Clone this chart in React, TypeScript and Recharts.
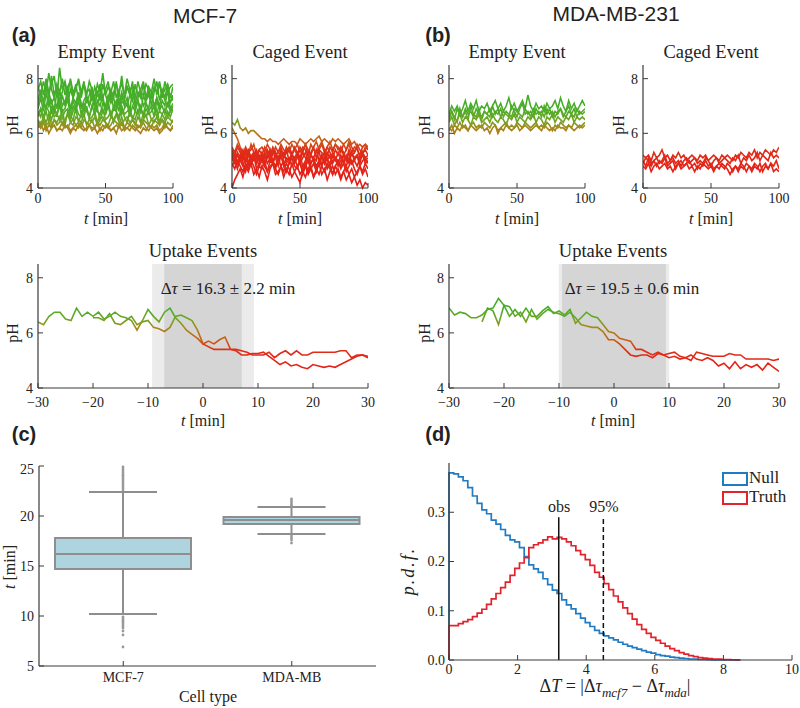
import {
  Bar,
  ComposedChart,
  Line,
  LineChart,
  ReferenceArea,
  ReferenceLine,
  XAxis,
  YAxis,
} from 'recharts';

const SERIF = '"Liberation Serif", "DejaVu Serif", serif';
const SANS = '"Liberation Sans", Arial, sans-serif';
const AXIS = '#3a3a3a';
const INK = '#222';

// pH traces: 100 min events sampled every 2 min
const EVENT_STEP = 2;
const PH_MIN = 4;
const PH_MAX = 8.5;
const PH_TICKS = [4, 6, 8];
const EVENT_TICKS = [0, 50, 100];
const UPTAKE_TICKS = [-30, -20, -10, 0, 10, 20, 30];

const MCF_EMPTY = [
  [7.6, 7.9, 7.4, 8.0, 7.5, 7.8, 8.1, 7.3, 8.4, 7.6, 7.9, 7.4, 8.0, 7.5, 7.7, 7.9, 7.3, 7.8, 7.5, 7.6, 7.2, 7.7, 7.4, 7.8, 7.3, 7.6, 7.9, 7.2, 7.5, 7.8, 7.4, 8.1, 7.3, 7.7, 7.5, 7.2, 7.8, 7.4, 7.6, 7.9, 7.3, 7.7, 7.5, 8.0, 7.4, 7.8, 7.3, 7.9, 7.5, 7.7, 7.8],
  [7.7, 7.4, 7.9, 7.5, 8.2, 7.6, 7.3, 7.8, 7.5, 8.0, 7.4, 7.7, 7.9, 7.3, 7.6, 8.0, 7.5, 7.8, 7.4, 7.9, 7.6, 7.3, 7.8, 7.5, 8.2, 7.4, 7.7, 7.5, 7.9, 7.3, 7.6, 7.8, 7.4, 8.0, 7.6, 7.7, 7.3, 7.9, 7.5, 7.4, 7.8, 7.6, 7.3, 7.7, 7.5, 7.9, 7.4, 7.6, 7.8, 7.3, 7.7],
  [7.2, 7.6, 7.1, 7.8, 7.3, 8.1, 7.4, 7.7, 7.2, 7.5, 7.9, 7.1, 7.6, 7.3, 7.8, 7.2, 7.5, 7.9, 7.1, 7.4, 7.7, 7.0, 7.5, 7.2, 7.8, 7.4, 7.1, 7.6, 7.3, 7.9, 7.0, 7.5, 7.2, 7.7, 7.4, 7.9, 7.1, 7.5, 7.3, 7.8, 7.2, 7.6, 7.0, 7.5, 7.9, 7.2, 7.6, 7.3, 7.8, 7.1, 7.4],
  [7.0, 7.4, 7.2, 6.9, 7.5, 7.1, 7.3, 6.9, 7.6, 7.0, 7.2, 7.4, 6.9, 7.3, 7.1, 7.5, 6.9, 7.2, 7.4, 7.0, 7.3, 7.1, 6.9, 7.5, 7.2, 7.0, 7.4, 7.1, 7.3, 6.9, 7.5, 7.1, 7.2, 7.0, 7.4, 7.2, 6.9, 7.3, 7.5, 7.0, 7.2, 7.4, 7.1, 6.9, 7.3, 7.0, 7.5, 7.2, 7.0, 7.4, 7.2],
  [6.9, 7.3, 6.8, 7.5, 7.0, 7.2, 6.7, 7.6, 6.9, 7.4, 7.0, 7.7, 6.8, 7.2, 6.9, 7.5, 7.1, 6.8, 7.3, 7.0, 7.6, 6.8, 7.2, 7.0, 7.4, 6.7, 7.1, 7.5, 6.9, 7.2, 6.8, 7.4, 7.0, 7.3, 6.8, 7.6, 7.0, 7.2, 6.7, 7.4, 7.1, 6.9, 7.5, 7.0, 7.3, 6.8, 7.2, 7.0, 7.6, 6.9, 7.1],
  [6.8, 6.6, 7.1, 6.9, 7.3, 6.7, 7.0, 6.6, 7.2, 6.8, 6.9, 7.3, 6.6, 7.0, 6.8, 7.2, 6.7, 7.1, 6.9, 6.6, 7.0, 7.3, 6.8, 6.7, 7.1, 6.9, 7.2, 6.6, 7.0, 6.8, 7.3, 6.7, 6.9, 7.1, 6.6, 7.0, 6.8, 7.2, 6.9, 6.7, 7.1, 6.8, 7.0, 6.6, 7.2, 6.9, 7.0, 6.7, 7.1, 6.8, 7.0],
  [6.7, 6.9, 6.6, 7.0, 6.8, 6.5, 6.9, 6.7, 7.0, 6.6, 6.8, 6.9, 6.5, 6.8, 7.0, 6.7, 6.6, 6.9, 6.8, 6.6, 7.0, 6.7, 6.9, 6.5, 6.8, 6.7, 7.0, 6.6, 6.9, 6.8, 6.6, 7.0, 6.7, 6.8, 6.9, 6.5, 6.8, 6.7, 7.0, 6.6, 6.9, 6.7, 6.8, 7.0, 6.6, 6.8, 6.7, 6.9, 6.6, 6.8, 6.9],
  [6.6, 6.9, 6.5, 6.8, 6.4, 7.0, 6.6, 6.7, 6.5, 6.9, 6.3, 6.8, 6.6, 6.5, 6.9, 6.4, 6.7, 6.6, 7.0, 6.5, 6.6, 6.8, 6.4, 6.7, 6.9, 6.5, 6.6, 6.8, 6.4, 6.7, 6.5, 6.9, 6.6, 6.4, 6.8, 6.6, 6.5, 6.9, 6.4, 6.7, 6.6, 6.8, 6.5, 6.6, 6.9, 6.4, 6.7, 6.5, 6.8, 6.6, 6.9],
  [6.5, 6.3, 6.6, 6.4, 6.7, 6.3, 6.5, 6.4, 6.6, 6.3, 6.5, 6.7, 6.4, 6.3, 6.6, 6.5, 6.4, 6.7, 6.3, 6.5, 6.4, 6.6, 6.3, 6.5, 6.6, 6.4, 6.3, 6.6, 6.5, 6.7, 6.4, 6.3, 6.5, 6.6, 6.4, 6.5, 6.3, 6.6, 6.4, 6.5, 6.7, 6.3, 6.5, 6.4, 6.6, 6.3, 6.5, 6.4, 6.6, 6.5, 6.4],
  [6.4, 6.2, 6.5, 6.3, 6.4, 6.2, 6.5, 6.3, 6.4, 6.6, 6.3, 6.2, 6.4, 6.5, 6.3, 6.4, 6.2, 6.5, 6.4, 6.3, 6.5, 6.2, 6.4, 6.3, 6.5, 6.4, 6.2, 6.3, 6.5, 6.4, 6.3, 6.6, 6.2, 6.4, 6.3, 6.5, 6.4, 6.2, 6.3, 6.5, 6.4, 6.3, 6.2, 6.5, 6.4, 6.3, 6.5, 6.2, 6.4, 6.3, 6.5],
  [6.3, 6.2, 6.4, 6.1, 6.3, 6.2, 6.3, 6.1, 6.2, 6.4, 6.2, 6.3, 6.1, 6.2, 6.3, 6.2, 6.4, 6.2, 6.1, 6.3, 6.2, 6.2, 6.4, 6.1, 6.3, 6.2, 6.3, 6.1, 6.2, 6.3, 6.2, 6.4, 6.1, 6.2, 6.3, 6.2, 6.1, 6.3, 6.2, 6.4, 6.2, 6.1, 6.3, 6.2, 6.3, 6.1, 6.2, 6.4, 6.2, 6.1, 6.3],
  [6.2, 6.4, 6.1, 6.3, 6.0, 6.2, 6.3, 6.1, 6.2, 6.1, 6.3, 6.2, 6.0, 6.2, 6.1, 6.3, 6.2, 6.1, 6.2, 6.3, 6.1, 6.2, 6.0, 6.2, 6.1, 6.3, 6.2, 6.1, 6.2, 6.0, 6.3, 6.1, 6.2, 6.2, 6.1, 6.3, 6.2, 6.1, 6.0, 6.2, 6.1, 6.3, 6.2, 6.1, 6.2, 6.0, 6.1, 6.3, 6.2, 6.1, 6.2],
];

const MCF_CAGED = [
  [6.4, 6.3, 6.5, 6.2, 6.1, 6.2, 6.0, 6.1, 6.1, 6.0, 5.9, 5.8, 5.8, 5.7, 5.8, 5.7, 5.7, 5.6, 5.7, 5.8, 5.7, 5.6, 5.7, 5.7, 5.6, 5.8, 5.7, 5.6, 5.7, 5.8, 5.7, 5.8, 5.9, 5.7, 5.8, 5.7, 5.6, 5.8, 5.7, 5.8, 5.7, 5.6, 5.7, 5.8, 5.6, 5.7, 5.5, 5.6, 5.5, 5.6, 5.5],
  [6.2, 6.0, 5.8, 5.5, 5.3, 5.2, 5.4, 5.1, 5.3, 5.2, 5.0, 5.3, 5.1, 5.4, 5.2, 5.5, 5.3, 5.1, 5.4, 5.2, 5.5, 5.3, 5.6, 5.4, 5.2, 5.5, 5.3, 5.6, 5.4, 5.2, 5.5, 5.7, 5.4, 5.6, 5.3, 5.5, 5.7, 5.4, 5.6, 5.5, 5.3, 5.6, 5.4, 5.7, 5.5, 5.3, 5.6, 5.4, 5.2, 5.5, 5.4],
  [5.5, 5.3, 5.6, 5.4, 5.2, 5.5, 5.3, 5.4, 5.6, 5.2, 5.4, 5.5, 5.3, 5.6, 5.4, 5.2, 5.5, 5.3, 5.6, 5.4, 5.3, 5.5, 5.2, 5.4, 5.6, 5.3, 5.5, 5.4, 5.2, 5.6, 5.4, 5.3, 5.5, 5.7, 5.4, 5.2, 5.5, 5.3, 5.6, 5.4, 5.5, 5.2, 5.4, 5.6, 5.3, 5.5, 5.4, 5.2, 5.5, 5.6, 5.4],
  [5.0, 5.3, 4.9, 5.2, 5.0, 5.4, 4.8, 5.1, 5.3, 4.9, 5.2, 5.0, 4.8, 5.2, 5.1, 4.9, 5.3, 5.0, 5.2, 4.8, 5.1, 5.0, 5.3, 4.9, 5.1, 5.2, 4.8, 5.0, 5.3, 4.9, 5.1, 5.0, 5.4, 4.8, 5.2, 5.0, 4.9, 5.3, 5.1, 5.0, 4.8, 5.2, 5.0, 5.3, 4.9, 5.1, 5.2, 4.9, 5.3, 5.0, 5.1],
  [5.3, 5.1, 4.9, 5.2, 5.4, 5.0, 5.2, 4.9, 5.1, 5.3, 5.0, 5.2, 4.9, 5.1, 5.4, 5.0, 5.1, 4.8, 5.2, 5.3, 5.0, 4.9, 5.2, 5.1, 4.8, 5.0, 5.3, 5.1, 4.9, 5.2, 5.0, 4.7, 4.9, 5.1, 5.3, 5.0, 5.2, 4.9, 5.1, 4.8, 5.0, 5.2, 5.1, 4.9, 5.3, 5.0, 4.8, 5.1, 5.2, 4.9, 5.0],
  [4.8, 5.0, 4.7, 5.1, 4.9, 4.6, 5.0, 4.8, 5.2, 4.7, 4.9, 5.1, 4.8, 4.6, 5.0, 4.9, 4.7, 5.1, 4.8, 5.0, 4.6, 4.9, 5.1, 4.8, 4.7, 5.0, 4.5, 4.8, 5.1, 4.7, 4.9, 4.6, 5.0, 4.8, 5.1, 4.7, 4.9, 4.5, 4.8, 5.0, 4.7, 4.9, 4.6, 4.8, 5.0, 4.7, 4.5, 4.8, 4.6, 4.9, 4.7],
  [4.9, 4.7, 5.0, 4.8, 4.6, 4.9, 4.7, 5.0, 4.8, 4.5, 4.8, 4.7, 5.0, 4.6, 4.8, 4.9, 4.7, 4.5, 4.8, 4.6, 4.9, 4.7, 4.4, 4.6, 4.8, 4.5, 4.7, 4.9, 4.6, 4.8, 4.4, 4.7, 4.5, 4.8, 4.6, 4.9, 4.7, 4.5, 4.8, 4.6, 4.3, 4.6, 4.8, 4.5, 4.7, 4.4, 4.6, 4.8, 4.5, 4.7, 4.4],
  [5.4, 5.2, 5.5, 5.3, 5.1, 5.4, 5.2, 5.6, 5.3, 5.1, 5.4, 5.2, 5.5, 5.3, 5.0, 5.4, 5.2, 5.3, 5.5, 5.1, 5.3, 5.4, 5.2, 5.5, 5.3, 5.1, 5.4, 5.6, 5.2, 5.3, 5.5, 5.1, 5.4, 5.3, 5.2, 5.5, 5.3, 5.1, 5.4, 5.2, 5.5, 5.3, 5.0, 5.4, 5.2, 5.3, 5.5, 5.1, 5.3, 5.4, 5.2],
  [4.0, 4.3, 4.5, 4.7, 4.4, 4.8, 4.6, 4.9, 4.5, 4.7, 4.4, 4.8, 4.6, 4.3, 4.7, 4.9, 4.5, 4.6, 4.8, 4.4, 4.7, 4.5, 4.9, 4.6, 4.4, 4.2, 4.6, 4.8, 4.5, 4.7, 4.4, 4.6, 4.9, 4.5, 4.7, 4.3, 4.6, 4.8, 4.5, 4.7, 4.4, 4.6, 4.3, 4.5, 4.2, 4.4, 4.1, 4.3, 4.0, 4.2, 4.1],
  [5.1, 4.9, 5.2, 5.0, 4.8, 5.1, 4.9, 5.2, 5.0, 5.1, 4.8, 5.0, 5.2, 4.9, 5.1, 5.0, 4.8, 5.1, 5.2, 4.9, 5.0, 5.1, 4.8, 5.0, 5.2, 4.9, 4.6, 4.4, 4.7, 4.9, 5.1, 4.8, 5.0, 5.2, 4.9, 5.1, 4.8, 5.0, 5.1, 4.9, 5.2, 5.0, 4.8, 5.1, 4.9, 5.0, 5.2, 4.8, 5.0, 5.1, 4.9],
  [5.2, 5.0, 5.3, 5.1, 5.2, 4.9, 5.3, 5.0, 5.2, 5.4, 5.1, 5.0, 5.3, 5.1, 5.2, 4.9, 5.2, 5.0, 5.3, 5.1, 5.4, 5.0, 5.2, 5.1, 5.3, 4.9, 5.1, 5.3, 5.0, 5.2, 5.1, 5.4, 5.0, 5.2, 4.9, 5.3, 5.1, 5.2, 5.0, 5.3, 5.1, 4.9, 5.2, 5.0, 5.3, 5.1, 5.2, 5.0, 5.3, 5.1, 5.2],
];

const MDA_EMPTY = [
  [6.7, 7.0, 6.8, 7.0, 6.7, 6.9, 7.2, 6.8, 7.1, 6.9, 7.2, 6.8, 7.0, 6.9, 7.1, 6.8, 7.0, 7.2, 6.9, 7.1, 6.8, 7.0, 7.3, 6.9, 7.1, 6.8, 7.0, 7.2, 6.9, 7.4, 7.0, 6.8, 7.1, 6.9, 7.0, 6.8, 7.1, 6.9, 7.0, 7.2, 6.9, 7.3, 7.0, 6.8, 7.2, 6.9, 7.1, 6.8, 7.0, 7.2, 7.0],
  [6.6, 6.8, 6.5, 6.9, 6.7, 6.6, 6.9, 6.7, 6.8, 6.6, 6.9, 6.7, 6.6, 6.8, 6.7, 6.9, 6.6, 6.8, 6.7, 6.9, 6.6, 6.8, 6.7, 6.6, 6.9, 6.8, 6.7, 6.6, 6.9, 6.7, 6.8, 6.6, 6.9, 6.7, 6.8, 6.6, 6.9, 6.7, 6.8, 6.6, 6.8, 6.9, 6.7, 6.6, 6.8, 6.7, 6.9, 6.6, 6.8, 6.7, 6.8],
  [6.4, 6.6, 6.3, 6.5, 6.7, 6.4, 6.6, 6.5, 6.3, 6.6, 6.5, 6.7, 6.4, 6.5, 6.6, 6.4, 6.7, 6.5, 6.4, 6.6, 6.5, 6.3, 6.6, 6.5, 6.7, 6.4, 6.6, 6.5, 6.4, 6.6, 6.5, 6.7, 6.4, 6.6, 6.5, 6.3, 6.6, 6.5, 6.7, 6.4, 6.6, 6.5, 6.4, 6.6, 6.5, 6.7, 6.4, 6.6, 6.5, 6.6, 6.5],
  [6.2, 6.1, 6.3, 6.2, 6.4, 6.2, 6.3, 6.1, 6.3, 6.4, 6.2, 6.3, 6.2, 6.4, 6.3, 6.2, 6.4, 6.3, 6.0, 6.2, 6.3, 6.4, 6.2, 6.3, 6.2, 6.4, 6.3, 6.2, 6.4, 6.3, 6.2, 6.3, 6.4, 6.2, 6.3, 6.2, 6.4, 6.3, 6.1, 6.3, 6.2, 6.4, 6.3, 6.2, 6.3, 6.2, 6.4, 6.3, 6.2, 6.3, 6.4],
  [6.5, 6.8, 6.6, 6.4, 6.9, 6.6, 6.8, 6.5, 7.0, 6.7, 6.6, 6.9, 6.5, 6.8, 6.7, 6.6, 7.0, 6.7, 6.9, 6.6, 6.8, 6.7, 6.6, 7.0, 6.8, 6.6, 6.9, 7.1, 6.7, 6.8, 6.6, 6.9, 6.7, 6.8, 6.6, 7.0, 6.7, 6.9, 6.6, 6.8, 6.7, 6.9, 6.6, 6.8, 7.0, 6.7, 6.6, 6.9, 6.7, 6.8, 6.9],
  [6.1, 6.3, 6.0, 6.2, 6.1, 6.3, 6.2, 6.1, 6.3, 6.2, 6.1, 6.2, 6.3, 6.1, 6.2, 6.0, 6.2, 6.3, 6.1, 6.2, 6.1, 6.3, 6.2, 6.1, 6.2, 6.3, 6.1, 6.2, 6.3, 6.2, 6.1, 6.2, 6.3, 6.2, 6.1, 6.3, 6.2, 6.1, 6.2, 6.1, 6.3, 6.2, 6.2, 6.1, 6.3, 6.2, 6.1, 6.2, 6.3, 6.2, 6.3],
];

const MDA_CAGED = [
  [5.2, 5.1, 5.2, 5.0, 5.3, 5.1, 5.2, 5.4, 5.1, 5.2, 5.0, 5.2, 5.1, 5.3, 5.1, 5.2, 5.0, 5.1, 5.2, 5.1, 5.0, 5.2, 5.1, 5.2, 5.0, 5.1, 5.2, 5.1, 5.0, 5.2, 5.1, 5.2, 5.1, 5.0, 5.2, 5.1, 5.3, 5.2, 5.1, 5.3, 5.2, 5.4, 5.1, 5.3, 5.2, 5.4, 5.3, 5.2, 5.4, 5.3, 5.5],
  [4.9, 5.1, 5.0, 4.8, 5.0, 5.1, 4.9, 5.0, 5.2, 4.9, 5.0, 5.1, 4.9, 5.0, 4.8, 5.0, 5.1, 4.9, 5.0, 5.1, 4.9, 5.0, 4.9, 5.1, 5.0, 4.8, 5.0, 5.1, 4.9, 5.0, 5.1, 5.0, 4.9, 5.1, 5.0, 5.2, 4.9, 5.1, 5.0, 5.2, 5.0, 5.1, 5.3, 5.0, 5.2, 5.1, 5.0, 5.3, 5.1, 5.2, 5.1],
  [4.8, 4.7, 4.9, 4.6, 4.8, 4.9, 4.7, 4.8, 4.9, 4.7, 4.8, 4.6, 4.8, 4.9, 4.7, 4.8, 4.9, 4.7, 4.8, 4.6, 4.8, 4.7, 4.9, 4.8, 4.7, 4.8, 4.6, 4.8, 4.7, 4.9, 4.8, 4.7, 4.5, 4.7, 4.8, 4.6, 4.8, 4.7, 4.9, 4.8, 4.6, 4.8, 4.7, 4.9, 4.6, 4.8, 4.7, 4.9, 4.6, 4.7, 4.6],
  [5.0, 4.8, 5.1, 4.9, 5.0, 4.8, 5.0, 4.9, 5.1, 4.8, 4.9, 5.0, 4.7, 4.9, 5.0, 4.8, 4.9, 5.0, 4.8, 4.9, 4.7, 4.9, 4.8, 5.0, 4.8, 4.9, 4.7, 4.8, 4.9, 4.8, 4.7, 4.9, 4.8, 4.6, 4.8, 4.7, 4.9, 4.8, 4.6, 4.8, 4.7, 4.9, 4.8, 4.6, 4.8, 4.9, 4.7, 4.9, 4.8, 5.0, 4.7],
];

// uptake events, 1 min samples aligned on the midpoint of the drop
const MCF_UPTAKE_1_START = -30;
const MCF_UPTAKE_1 = [6.4, 6.3, 6.6, 6.75, 6.75, 6.5, 6.45, 6.9, 6.6, 6.75, 6.6, 6.75, 6.5, 6.6, 6.75, 6.6, 6.55, 6.45, 6.1, 6.45, 6.85, 6.6, 6.4, 6.75, 6.9, 6.55, 6.35, 6.1, 5.95, 5.8, 5.6, 5.7, 5.6, 5.75, 5.85, 5.4, 5.35, 5.2, 5.2, 5.25, 5.25, 5.3, 5.15, 5.0, 4.85, 4.95, 4.8, 4.85, 4.75, 4.7, 4.85, 4.8, 4.75, 4.8, 4.75, 4.85, 4.95, 5.05, 5.15, 5.2, 5.1];
const MCF_UPTAKE_2_START = -20;
const MCF_UPTAKE_2 = [6.55, 6.55, 6.45, 6.7, 6.35, 6.3, 6.45, 6.6, 6.3, 6.4, 6.45, 6.2, 6.15, 6.05, 6.2, 6.6, 6.65, 6.55, 6.45, 6.1, 5.6, 5.5, 5.4, 5.4, 5.4, 5.4, 5.4, 5.35, 5.3, 5.2, 5.2, 5.2, 5.3, 5.1, 5.25, 5.35, 5.2, 5.35, 5.2, 5.2, 5.3, 5.3, 5.3, 5.3, 5.3, 5.35, 5.35, 5.1, 5.2, 5.2, 5.15];
const MDA_UPTAKE_1_START = -30;
const MDA_UPTAKE_1 = [6.9, 6.65, 6.75, 6.7, 6.55, 6.55, 6.65, 6.85, 6.9, 7.25, 7.0, 6.6, 6.85, 6.6, 6.9, 6.6, 6.6, 6.8, 6.95, 6.7, 6.8, 6.65, 6.85, 6.35, 6.55, 6.75, 6.6, 6.55, 6.3, 6.05, 6.0, 5.8, 5.75, 5.7, 5.4, 5.4, 5.3, 5.2, 5.3, 5.2, 5.25, 5.3, 5.15, 5.1, 5.0, 5.3, 5.25, 5.2, 5.15, 5.15, 5.15, 5.25, 5.2, 5.2, 5.05, 5.05, 5.05, 5.05, 5.05, 5.0, 5.05];
const MDA_UPTAKE_2_START = -24;
const MDA_UPTAKE_2 = [6.4, 6.9, 6.8, 6.3, 7.0, 6.95, 6.6, 6.75, 6.4, 6.85, 6.5, 6.7, 6.85, 6.75, 6.7, 6.6, 6.75, 6.55, 6.3, 6.25, 6.2, 6.2, 6.05, 5.75, 5.75, 5.6, 5.4, 5.2, 5.15, 5.2, 5.2, 5.1, 5.25, 5.2, 5.1, 5.15, 5.05, 5.1, 5.2, 5.05, 5.0, 5.1, 5.0, 4.8, 4.9, 4.7, 4.95, 4.7, 4.85, 4.75, 4.85, 4.65, 4.9, 4.75, 4.6];

const MCF_DTAU = 16.3;
const MCF_DTAU_ERR = 2.2;
const MDA_DTAU = 19.5;
const MDA_DTAU_ERR = 0.6;

// (c) box plot of uptake duration
const CELL_TYPES = ['MCF-7', 'MDA-MB'];
const BOX_Q1 = [14.7, 19.2];
const BOX_MEDIAN = [16.2, 19.6];
const BOX_Q3 = [17.8, 19.9];
const WHISKER_LO = [10.2, 18.2];
const WHISKER_HI = [22.4, 20.9];
const OUTLIERS = [
  [22.6, 22.8, 23.0, 23.2, 23.4, 23.6, 23.8, 24.0, 24.1, 24.3, 24.5, 24.7, 24.9, 9.9, 9.7, 9.5, 9.4, 9.2, 9.0, 8.8, 8.5, 8.1, 6.9],
  [21.0, 21.1, 21.3, 21.5, 21.7, 18.0, 17.8, 17.6, 17.3],
];

// (d) permutation test histograms
const BIN = 0.137;
const NULL_PDF = [0.38, 0.378, 0.372, 0.364, 0.35, 0.333, 0.318, 0.305, 0.297, 0.284, 0.276, 0.265, 0.253, 0.244, 0.24, 0.228, 0.21, 0.193, 0.185, 0.178, 0.165, 0.153, 0.142, 0.135, 0.122, 0.112, 0.104, 0.094, 0.085, 0.076, 0.068, 0.06, 0.054, 0.049, 0.045, 0.041, 0.036, 0.032, 0.028, 0.025, 0.022, 0.019, 0.016, 0.014, 0.011, 0.009, 0.008, 0.006, 0.005, 0.004, 0.003, 0.002, 0.002, 0.001, 0.001, 0.0005, 0.0003, 0.0002, 0.0001, 0, 0, 0];
const TRUTH_PDF = [0.07, 0.07, 0.074, 0.078, 0.082, 0.088, 0.095, 0.103, 0.113, 0.124, 0.135, 0.147, 0.158, 0.172, 0.186, 0.197, 0.208, 0.228, 0.234, 0.238, 0.244, 0.25, 0.246, 0.249, 0.246, 0.24, 0.232, 0.222, 0.214, 0.204, 0.192, 0.178, 0.168, 0.155, 0.143, 0.13, 0.118, 0.106, 0.094, 0.083, 0.072, 0.062, 0.054, 0.046, 0.04, 0.034, 0.028, 0.023, 0.019, 0.015, 0.012, 0.009, 0.007, 0.005, 0.004, 0.003, 0.002, 0.002, 0.001, 0.001, 0.0005, 0.0003];
const OBS = 3.2;
const P95 = 4.5;
const MARK_TOP = 0.29;

// pH -> colour used for every trace (green high, olive ~6.2, red below 5.5)
const PH_STOPS: [number, string][] = [
  [8.5, '#3dae2a'],
  [6.9, '#48ad27'],
  [6.5, '#6ca624'],
  [6.2, '#a38a1b'],
  [5.75, '#ca5d19'],
  [5.35, '#e02c17'],
  [4, '#e81717'],
];

const toPoints = (vals: number[], start: number, step: number) =>
  vals.map((v, i) => ({ t: start + i * step, v }));

const minus = (v: number) => String(v).replace('-', '\u2212');

type Plot = { left: number; top: number; width: number; height: number };

const YW = 40;
const MT = 5;
const MR = 12;
const XH = 30;

const tickStyle = { fontFamily: SERIF, fontSize: 14, fill: INK };

function Txt({ x, y, size = 16, font = SERIF, weight = 400, rotate = false, children }: any) {
  return (
    <div
      style={{
        position: 'absolute',
        left: x,
        top: y,
        transform: `translate(-50%, -50%)${rotate ? ' rotate(-90deg)' : ''}`,
        fontFamily: font,
        fontSize: size,
        fontWeight: weight,
        color: INK,
        whiteSpace: 'nowrap',
        lineHeight: 1,
      }}
    >
      {children}
    </div>
  );
}

function PhChart({
  id,
  plot,
  traces,
  xDomain,
  xTicks,
  xTickMargin = 10,
  dtau,
  err,
}: {
  id: string;
  plot: Plot;
  traces: { t: number; v: number }[][];
  xDomain: [number, number];
  xTicks: number[];
  xTickMargin?: number;
  dtau?: number;
  err?: number;
}) {
  return (
    <div style={{ position: 'absolute', left: plot.left - YW, top: plot.top - MT }}>
      <LineChart
        width={plot.width + YW + MR}
        height={plot.height + MT + XH}
        margin={{ top: MT, right: MR, bottom: 0, left: 0 }}
      >
        <defs>
          <linearGradient id={id} gradientUnits="userSpaceOnUse" x1={0} x2={0} y1={MT} y2={MT + plot.height}>
            {PH_STOPS.map(([ph, c]) => (
              <stop key={ph} offset={(PH_MAX - ph) / (PH_MAX - PH_MIN)} stopColor={c} />
            ))}
          </linearGradient>
        </defs>
        <XAxis
          type="number"
          dataKey="t"
          domain={xDomain}
          ticks={xTicks}
          allowDataOverflow
          height={XH}
          tick={tickStyle}
          tickFormatter={minus}
          tickSize={-5}
          tickMargin={xTickMargin}
          axisLine={{ stroke: AXIS, strokeWidth: 1.2 }}
          tickLine={{ stroke: AXIS }}
        />
        <YAxis
          type="number"
          domain={[PH_MIN, PH_MAX]}
          ticks={PH_TICKS}
          width={YW}
          tick={tickStyle}
          tickSize={-5}
          tickMargin={10}
          axisLine={{ stroke: AXIS, strokeWidth: 1.2 }}
          tickLine={{ stroke: AXIS }}
        />
        {dtau != null && err != null && (
          <ReferenceArea x1={-(dtau + err) / 2} x2={(dtau + err) / 2} fill="#ebebeb" fillOpacity={1} stroke="none" />
        )}
        {dtau != null && err != null && (
          <ReferenceArea x1={-(dtau - err) / 2} x2={(dtau - err) / 2} fill="#d5d5d5" fillOpacity={1} stroke="none" />
        )}
        {traces.map((pts, i) => (
          <Line
            key={i}
            data={pts}
            dataKey="v"
            type="linear"
            stroke={`url(#${id})`}
            strokeWidth={1.6}
            dot={false}
            isAnimationActive={false}
          />
        ))}
      </LineChart>
    </div>
  );
}

function BoxShape(props: any) {
  const { x, y, width, height, payload } = props;
  const q1 = payload.box[0];
  const q3 = payload.box[1];
  const ppu = height / (q3 - q1);
  const py = (v: number) => y + (q3 - v) * ppu;
  const cx = x + width / 2;
  const cap = width / 4;
  const grey = '#8e8e8e';
  return (
    <g>
      <line x1={cx} x2={cx} y1={py(payload.hi)} y2={py(q3)} stroke={grey} strokeWidth={2} />
      <line x1={cx} x2={cx} y1={py(q1)} y2={py(payload.lo)} stroke={grey} strokeWidth={2} />
      <line x1={cx - cap} x2={cx + cap} y1={py(payload.hi)} y2={py(payload.hi)} stroke={grey} strokeWidth={2} />
      <line x1={cx - cap} x2={cx + cap} y1={py(payload.lo)} y2={py(payload.lo)} stroke={grey} strokeWidth={2} />
      {payload.outliers.map((o: number, i: number) => (
        <circle key={i} cx={cx} cy={py(o)} r={1.4} fill="#999" />
      ))}
      <rect x={x} y={y} width={width} height={height} fill="#add4df" stroke={grey} strokeWidth={2} />
      <line x1={x} x2={x + width} y1={py(payload.median)} y2={py(payload.median)} stroke={grey} strokeWidth={2} />
    </g>
  );
}

export default function App() {
  const smallTop = 65;
  const smallH = 123;
  const upTop = 264;
  const upH = 124;

  const boxRows = CELL_TYPES.map((name, i) => ({
    name,
    box: [BOX_Q1[i], BOX_Q3[i]],
    median: BOX_MEDIAN[i],
    lo: WHISKER_LO[i],
    hi: WHISKER_HI[i],
    outliers: OUTLIERS[i],
  }));

  const pdfRows = [
    { x: 0, nul: 0, tru: 0 },
    ...NULL_PDF.map((v, i) => ({ x: i * BIN, nul: v, tru: TRUTH_PDF[i] })),
    {
      x: NULL_PDF.length * BIN,
      nul: NULL_PDF[NULL_PDF.length - 1],
      tru: TRUTH_PDF[TRUTH_PDF.length - 1],
    },
  ];

  const cPlot: Plot = { left: 39, top: 466, width: 337, height: 200 };
  const dPlot: Plot = { left: 449, top: 463, width: 343, height: 197 };

  const axisProps = {
    tick: tickStyle,
    tickSize: -5,
    axisLine: { stroke: AXIS, strokeWidth: 1.2 },
    tickLine: { stroke: AXIS },
  };

  const tLabel = (
    <span>
      <i>t</i> [min]
    </span>
  );

  return (
    <div style={{ position: 'absolute', left: 0, top: 0, width: 800, height: 708, background: '#fff', overflow: 'hidden' }}>
      <Txt x={205} y={15} size={21} font={SANS}>MCF-7</Txt>
      <Txt x={616} y={13} size={21} font={SANS}>MDA-MB-231</Txt>
      <Txt x={24} y={35} size={20} font={SANS} weight={700}>(a)</Txt>
      <Txt x={438} y={35} size={20} font={SANS} weight={700}>(b)</Txt>
      <Txt x={24} y={434} size={20} font={SANS} weight={700}>(c)</Txt>
      <Txt x={438} y={434} size={20} font={SANS} weight={700}>(d)</Txt>

      {/* (a) MCF-7 */}
      <Txt x={106} y={52} size={18.5}>Empty Event</Txt>
      <Txt x={300} y={52} size={18.5}>Caged Event</Txt>
      <PhChart
        id="gMcfEmpty"
        plot={{ left: 38, top: smallTop, width: 135, height: smallH }}
        traces={MCF_EMPTY.map((a) => toPoints(a, 0, EVENT_STEP))}
        xDomain={[0, 100]}
        xTicks={EVENT_TICKS}
      />
      <PhChart
        id="gMcfCaged"
        plot={{ left: 232, top: smallTop, width: 136, height: smallH }}
        traces={MCF_CAGED.map((a) => toPoints(a, 0, EVENT_STEP))}
        xDomain={[0, 100]}
        xTicks={EVENT_TICKS}
      />
      <Txt x={13} y={125} rotate>pH</Txt>
      <Txt x={208} y={125} rotate>pH</Txt>
      <Txt x={106} y={219}>{tLabel}</Txt>
      <Txt x={300} y={219}>{tLabel}</Txt>

      <Txt x={203} y={251} size={18.5}>Uptake Events</Txt>
      <PhChart
        id="gMcfUptake"
        plot={{ left: 38, top: upTop, width: 330, height: upH }}
        traces={[
          toPoints(MCF_UPTAKE_1, MCF_UPTAKE_1_START, 1),
          toPoints(MCF_UPTAKE_2, MCF_UPTAKE_2_START, 1),
        ]}
        xDomain={[-30, 30]}
        xTicks={UPTAKE_TICKS}
        xTickMargin={14}
        dtau={MCF_DTAU}
        err={MCF_DTAU_ERR}
      />
      <Txt x={13} y={333} rotate>pH</Txt>
      <Txt x={228} y={288} size={17}>
        {'\u0394'}<i>{'\u03c4'}</i> = {MCF_DTAU} ± {MCF_DTAU_ERR} min
      </Txt>
      <Txt x={203} y={421}>{tLabel}</Txt>

      {/* (b) MDA-MB-231 */}
      <Txt x={517} y={52} size={18.5}>Empty Event</Txt>
      <Txt x={711} y={52} size={18.5}>Caged Event</Txt>
      <PhChart
        id="gMdaEmpty"
        plot={{ left: 449, top: smallTop, width: 136, height: smallH }}
        traces={MDA_EMPTY.map((a) => toPoints(a, 0, EVENT_STEP))}
        xDomain={[0, 100]}
        xTicks={EVENT_TICKS}
      />
      <PhChart
        id="gMdaCaged"
        plot={{ left: 643, top: smallTop, width: 136, height: smallH }}
        traces={MDA_CAGED.map((a) => toPoints(a, 0, EVENT_STEP))}
        xDomain={[0, 100]}
        xTicks={EVENT_TICKS}
      />
      <Txt x={425} y={125} rotate>pH</Txt>
      <Txt x={619} y={125} rotate>pH</Txt>
      <Txt x={517} y={219}>{tLabel}</Txt>
      <Txt x={711} y={219}>{tLabel}</Txt>

      <Txt x={613} y={251} size={18.5}>Uptake Events</Txt>
      <PhChart
        id="gMdaUptake"
        plot={{ left: 449, top: upTop, width: 330, height: upH }}
        traces={[
          toPoints(MDA_UPTAKE_1, MDA_UPTAKE_1_START, 1),
          toPoints(MDA_UPTAKE_2, MDA_UPTAKE_2_START, 1),
        ]}
        xDomain={[-30, 30]}
        xTicks={UPTAKE_TICKS}
        xTickMargin={14}
        dtau={MDA_DTAU}
        err={MDA_DTAU_ERR}
      />
      <Txt x={425} y={333} rotate>pH</Txt>
      <Txt x={632} y={288} size={17}>
        {'\u0394'}<i>{'\u03c4'}</i> = {MDA_DTAU} ± {MDA_DTAU_ERR} min
      </Txt>
      <Txt x={613} y={421}>{tLabel}</Txt>

      {/* (c) box plot */}
      <div style={{ position: 'absolute', left: cPlot.left - YW, top: cPlot.top - MT }}>
        <ComposedChart
          width={cPlot.width + YW + MR}
          height={cPlot.height + MT + XH}
          data={boxRows}
          margin={{ top: MT, right: MR, bottom: 0, left: 0 }}
        >
          <XAxis dataKey="name" type="category" height={XH} tickMargin={11} {...axisProps} />
          <YAxis type="number" domain={[5, 25]} ticks={[5, 10, 15, 20, 25]} width={YW} tickMargin={10} {...axisProps} />
          <Bar dataKey="box" barSize={136} shape={<BoxShape />} isAnimationActive={false} />
        </ComposedChart>
      </div>
      <Txt x={10} y={567} rotate>{tLabel}</Txt>
      <Txt x={208} y={697}>Cell type</Txt>

      {/* (d) histograms */}
      <div style={{ position: 'absolute', left: dPlot.left - YW, top: dPlot.top - MT }}>
        <LineChart
          width={dPlot.width + YW + MR}
          height={dPlot.height + MT + XH}
          data={pdfRows}
          margin={{ top: MT, right: MR, bottom: 0, left: 0 }}
        >
          <XAxis type="number" dataKey="x" domain={[0, 10]} ticks={[0, 2, 4, 6, 8, 10]} height={XH} tickMargin={9} {...axisProps} />
          <YAxis
            type="number"
            domain={[0, 0.4]}
            ticks={[0, 0.1, 0.2, 0.3]}
            width={YW}
            tickMargin={9}
            tickFormatter={(v: number) => v.toFixed(1)}
            {...axisProps}
          />
          <Line dataKey="nul" type="stepAfter" stroke="#1f7cc4" strokeWidth={1.7} dot={false} isAnimationActive={false} />
          <Line dataKey="tru" type="stepAfter" stroke="#e3232b" strokeWidth={1.7} dot={false} isAnimationActive={false} />
          <ReferenceLine segment={[{ x: OBS, y: 0 }, { x: OBS, y: MARK_TOP }]} stroke="#111" strokeWidth={1.5} />
          <ReferenceLine segment={[{ x: P95, y: 0 }, { x: P95, y: MARK_TOP }]} stroke="#111" strokeWidth={1.5} strokeDasharray="5 3" />
        </LineChart>
      </div>
      <Txt x={559} y={507}>obs</Txt>
      <Txt x={604} y={507}>95%</Txt>
      <div style={{ position: 'absolute', left: 722, top: 472, width: 22, height: 10, border: '2px solid #1f7cc4' }} />
      <div style={{ position: 'absolute', left: 722, top: 491, width: 22, height: 10, border: '2px solid #e3232b' }} />
      <div style={{ position: 'absolute', left: 749, top: 469, fontFamily: SERIF, fontSize: 17, color: INK, lineHeight: 1 }}>Null</div>
      <div style={{ position: 'absolute', left: 749, top: 488, fontFamily: SERIF, fontSize: 17, color: INK, lineHeight: 1 }}>Truth</div>
      <Txt x={408} y={571} size={18} rotate>
        <i style={{ letterSpacing: 2 }}>p.d.f.</i>
      </Txt>
      <Txt x={615} y={688} size={18}>
        <span>
          {'\u0394'}<i>T</i> = |{'\u0394'}<i>{'\u03c4'}</i>
          <sub style={{ fontSize: 13 }}><i>mcf7</i></sub> {'\u2212'} {'\u0394'}<i>{'\u03c4'}</i>
          <sub style={{ fontSize: 13 }}><i>mda</i></sub>|
        </span>
      </Txt>
    </div>
  );
}
